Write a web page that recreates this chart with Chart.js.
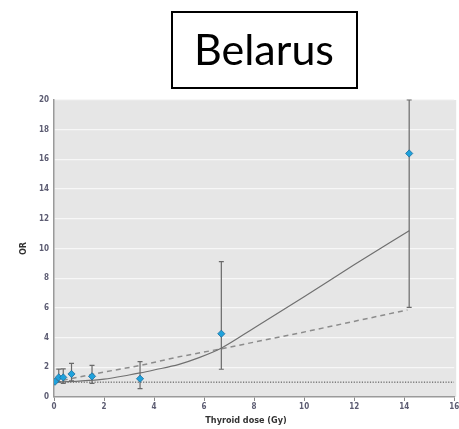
<!DOCTYPE html>
<html>
<head>
<meta charset="utf-8">
<script src="https://cdn.jsdelivr.net/npm/chart.js@4.4.1/dist/chart.umd.min.js"></script>
<style>
  html, body { margin: 0; padding: 0; background: #ffffff; }
  #wrap { width: 459px; height: 429px; position: relative; }
</style>
</head>
<body>
<div id="wrap"><canvas id="c" width="459" height="429"></canvas></div>
<script>
// Observed odds ratios by thyroid dose category, with 95% confidence limits
const doses   = [0.04, 0.19, 0.37, 0.70, 1.52, 3.44, 6.69, 14.2];
const orValues = [1.03, 1.32, 1.32, 1.55, 1.39, 1.23, 4.26, 16.4];
const ciLower = [null, 1.02, 0.92, 1.08, 0.92, 0.56, 1.87, 6.04];
const ciUpper = [null, 1.88, 1.89, 2.27, 2.13, 2.38, 9.11, 20.0];

// Fitted dose-response curve (solid)
const fitDoses = [0, 1, 2, 3, 3.44, 4, 5, 5.8, 6.7, 8, 10, 12, 14.2];
const fitOR    = [1.0, 1.07, 1.2, 1.48, 1.62, 1.82, 2.2, 2.65, 3.3, 4.65, 6.75, 8.9, 11.2];

// Linear model (dashed)
const linDoses = [0, 2, 3.44, 5, 6.7, 9.76, 14.13];
const linOR    = [1.0, 1.68, 2.12, 2.71, 3.25, 4.29, 5.86];

// Reference line OR = 1 (dotted)
const refDoses = [0, 16];
const refOR    = [1, 1];

// Axis tick labels
const xTicks = [0, 2, 4, 6, 8, 10, 12, 14, 16];
const yTicks = [0, 2, 4, 6, 8, 10, 12, 14, 16, 18, 20];

const titleText = 'Belarus';
const xTitle = 'Thyroid dose (Gy)';
const yTitle = 'OR';

const pairs = (xs, ys) => xs.map((v, i) => ({ x: v, y: ys[i] }));
const tickFont = { family: "'Liberation Sans Narrow', 'DejaVu Sans Condensed', sans-serif", size: 8, weight: 'bold' };

const plotBackground = {
  id: 'plotBackground',
  beforeDraw(chart) {
    const { ctx, chartArea: a } = chart;
    ctx.save();
    ctx.fillStyle = '#e6e6e6';
    ctx.fillRect(a.left, a.top, a.right - a.left + 2, a.bottom - a.top);
    ctx.restore();
  }
};

const errorBars = {
  id: 'errorBars',
  beforeDatasetDraw(chart, args) {
    if (args.index !== 0) return;
    const { ctx, scales: { x, y } } = chart;
    ctx.save();
    ctx.strokeStyle = '#6a6a6a';
    ctx.lineWidth = 1.2;
    doses.forEach((d, i) => {
      if (ciLower[i] == null) return;
      const px = x.getPixelForValue(d);
      const lo = y.getPixelForValue(ciLower[i]);
      const hi = y.getPixelForValue(ciUpper[i]);
      ctx.beginPath();
      ctx.moveTo(px, lo); ctx.lineTo(px, hi);
      ctx.moveTo(px - 2.5, lo); ctx.lineTo(px + 2.5, lo);
      ctx.moveTo(px - 2.5, hi); ctx.lineTo(px + 2.5, hi);
      ctx.stroke();
    });
    ctx.restore();
  }
};

const boxedTitle = {
  id: 'boxedTitle',
  afterDraw(chart) {
    const { ctx } = chart;
    ctx.save();
    ctx.strokeStyle = '#000000';
    ctx.lineWidth = 2;
    ctx.strokeRect(172, 12, 185, 76);
    ctx.fillStyle = '#000000';
    ctx.font = "43px Lato, 'Open Sans', sans-serif";
    ctx.textAlign = 'center';
    ctx.textBaseline = 'alphabetic';
    ctx.fillText(titleText, 264, 65);
    // x-axis title
    ctx.fillStyle = '#333333';
    ctx.font = "bold 9px 'Liberation Sans Narrow', 'DejaVu Sans Condensed', sans-serif";
    ctx.textBaseline = 'middle';
    ctx.fillText(xTitle, 246, 421);
    ctx.restore();
  }
};

new Chart(document.getElementById('c'), {
  type: 'scatter',
  data: {
    datasets: [
      {
        label: 'Observed OR',
        data: pairs(doses, orValues),
        pointStyle: 'rectRot',
        pointRadius: 3.6,
        backgroundColor: '#1fa2dc',
        borderColor: '#1a6d9e',
        borderWidth: 0.8,
        showLine: false
      },
      {
        label: 'Fitted',
        data: pairs(fitDoses, fitOR),
        showLine: true,
        borderColor: '#707070',
        borderWidth: 1.2,
        pointRadius: 0,
        cubicInterpolationMode: 'monotone',
        fill: false
      },
      {
        label: 'Linear',
        data: pairs(linDoses, linOR),
        showLine: true,
        borderColor: '#8c8c8c',
        borderWidth: 1.5,
        borderDash: [5, 4],
        pointRadius: 0,
        tension: 0,
        fill: false
      },
      {
        label: 'Reference',
        data: pairs(refDoses, refOR),
        showLine: true,
        borderColor: '#444444',
        borderWidth: 1,
        borderDash: [1.2, 1.5],
        pointRadius: 0,
        fill: false
      }
    ]
  },
  options: {
    responsive: false,
    animation: false,
    devicePixelRatio: 1,
    layout: { padding: { top: 100, left: 0, right: 2, bottom: 0 } },
    plugins: { legend: { display: false }, tooltip: { enabled: false }, title: { display: false } },
    scales: {
      x: {
        type: 'linear',
        position: 'bottom',
        min: 0, max: 16,
        afterBuildTicks: s => { s.ticks = xTicks.map(v => ({ value: v })); },
        afterFit: s => { s.height = 32; s.paddingLeft = 0; s.paddingRight = 0; },
        grid: { drawOnChartArea: false, drawTicks: true, tickLength: 4, color: '#888888', lineWidth: 1 },
        border: { display: true, color: '#9a9a9a', width: 1.5 },
        ticks: { padding: 1, color: '#5c5c72', font: tickFont, maxRotation: 0, autoSkip: false },
        title: { display: false }
      },
      y: {
        type: 'linear',
        position: 'left',
        min: 0, max: 20,
        afterBuildTicks: s => { s.ticks = yTicks.map(v => ({ value: v })); },
        afterFit: s => { s.width = 54; s.paddingTop = 0; s.paddingBottom = 0; },
        grid: {
          drawTicks: false,
          color: c => (c.tick && c.tick.value === 0) ? 'rgba(0,0,0,0)' : '#f7f7f7',
          lineWidth: 1.3
        },
        border: { display: true, color: '#9a9a9a', width: 1.5 },
        ticks: { padding: 5, color: '#5c5c72', font: tickFont, autoSkip: false },
        title: {
          display: true,
          text: yTitle,
          color: '#333333',
          font: { family: "'Liberation Sans Narrow', 'DejaVu Sans Condensed', sans-serif", size: 9, weight: 'bold' },
          padding: { top: 18, bottom: 0 }
        }
      }
    }
  },
  plugins: [plotBackground, errorBars, boxedTitle]
});
</script>
</body>
</html>
